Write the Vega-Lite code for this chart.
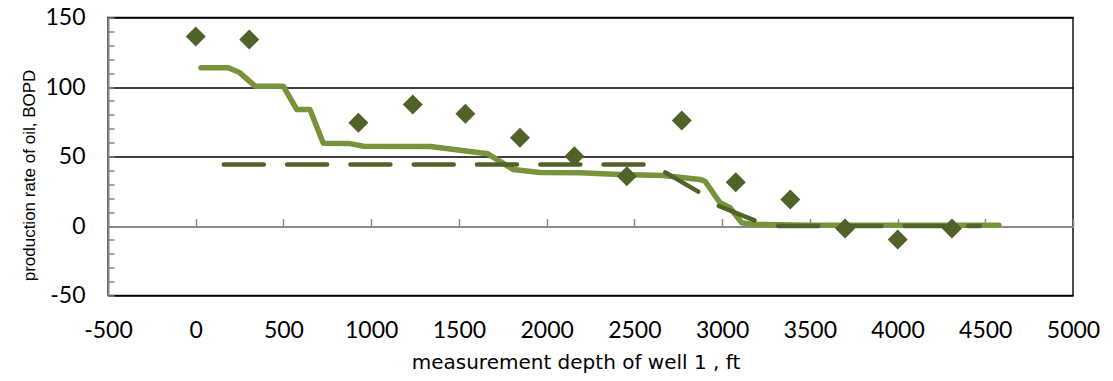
{
  "$schema": "https://vega.github.io/schema/vega-lite/v6.json",
  "width": 965,
  "height": 278,
  "autosize": {"type": "none"},
  "padding": {"left": 108, "top": 17.5, "right": 40, "bottom": 85.5},
  "background": "white",
  "config": {
    "view": {"stroke": "#111111", "strokeWidth": 1.5},
    "axis": {"labelFont": "Lato", "labelFontSize": 23, "labelColor": "#000000"}
  },
  "datasets": {
    "measured": [
      {"depth": 0, "rate": 136.3},
      {"depth": 305, "rate": 134.2},
      {"depth": 927, "rate": 74.2},
      {"depth": 1237, "rate": 87.4},
      {"depth": 1537, "rate": 80.7},
      {"depth": 1848, "rate": 63.4},
      {"depth": 2158, "rate": 50.2},
      {"depth": 2457, "rate": 35.8},
      {"depth": 2770, "rate": 75.9},
      {"depth": 3078, "rate": 31.5},
      {"depth": 3389, "rate": 19.1},
      {"depth": 3701, "rate": -1.8},
      {"depth": 4001, "rate": -9.7},
      {"depth": 4310, "rate": -1.8}
    ],
    "profile": [
      {"depth": 30, "rate": 113.8},
      {"depth": 186, "rate": 113.8},
      {"depth": 252, "rate": 110.2},
      {"depth": 338, "rate": 100.6},
      {"depth": 499, "rate": 100.6},
      {"depth": 576, "rate": 83.8},
      {"depth": 651, "rate": 83.8},
      {"depth": 727, "rate": 59.5},
      {"depth": 879, "rate": 59.3},
      {"depth": 955, "rate": 57.4},
      {"depth": 1337, "rate": 57.2},
      {"depth": 1620, "rate": 52.7},
      {"depth": 1660, "rate": 52.2},
      {"depth": 1810, "rate": 40.6},
      {"depth": 1962, "rate": 38.5},
      {"depth": 2190, "rate": 38.3},
      {"depth": 2418, "rate": 37.1},
      {"depth": 2665, "rate": 36.3},
      {"depth": 2874, "rate": 33.5},
      {"depth": 2903, "rate": 32.2},
      {"depth": 2988, "rate": 16.7},
      {"depth": 3045, "rate": 13.1},
      {"depth": 3112, "rate": 2.3},
      {"depth": 3178, "rate": 1.1},
      {"depth": 3500, "rate": 0.6},
      {"depth": 4578, "rate": 0.5}
    ],
    "trend": [
      {"seg": 1, "depth": 160, "rate": 44.2},
      {"seg": 1, "depth": 2557, "rate": 44.2},
      {"seg": 2, "depth": 2676, "rate": 38.6},
      {"seg": 2, "depth": 2864, "rate": 24.7},
      {"seg": 3, "depth": 2981, "rate": 14.4},
      {"seg": 3, "depth": 3185, "rate": 4.0},
      {"seg": 4, "depth": 3320, "rate": 0},
      {"seg": 4, "depth": 4470, "rate": 0}
    ]
  },
  "resolve": {"axis": {"x": "independent"}},
  "encoding": {
    "y": {
      "field": "rate", "type": "quantitative",
      "scale": {"domain": [-50, 150], "nice": false, "zero": false},
      "axis": {
        "values": [-50, -40, -30, -20, -10, 0, 10, 20, 30, 40, 50, 60, 70, 80, 90, 100, 110, 120, 130, 140, 150],
        "labelExpr": "datum.value % 50 === 0 ? '' + datum.value : ''",
        "labelPadding": 29, "labelFlush": false, "labelOverlap": false, "labelBound": false,
        "domainColor": "#868686", "domainWidth": 2,
        "tickColor": "#868686", "tickSize": -6, "tickWidth": 1.5,
        "grid": true,
        "gridColor": {"condition": {"test": "datum.value === 0", "value": "#8a8a8a"}, "value": "#000000"},
        "gridOpacity": {"condition": {"test": "datum.value % 50 === 0", "value": 1}, "value": 0},
        "gridWidth": 1.5,
        "title": "production rate of oil, BOPD",
        "titleFont": "Liberation Sans", "titleFontSize": 17, "titleFontWeight": "normal", "titleColor": "#000000",
        "titleBaseline": "alphabetic", "titleX": -74, "titleY": 157.5, "titleAngle": -90, "titleAlign": "center", "titleAnchor": "start"
      }
    }
  },
  "layer": [
    {
      "data": {"name": "profile"},
      "mark": {"type": "line", "color": "#77933C", "strokeWidth": 5.5, "strokeCap": "round", "strokeJoin": "round"},
      "encoding": {
        "x": {
          "field": "depth", "type": "quantitative",
          "scale": {"domain": [-500, 5000], "nice": false, "zero": false},
          "axis": {
            "orient": "bottom",
            "values": [-500, 0, 500, 1000, 1500, 2000, 2500, 3000, 3500, 4000, 4500, 5000],
            "labelExpr": "'' + datum.value",
            "domain": false, "ticks": false, "grid": false,
            "labelPadding": 24, "labelFlush": false, "labelOverlap": false,
            "title": "measurement depth of well 1 , ft",
            "titleFont": "DejaVu Sans", "titleFontSize": 20, "titleFontWeight": "normal", "titleColor": "#000000",
            "titleBaseline": "alphabetic", "titleX": 467.5, "titleY": 72.6, "titleAnchor": "start", "titleAlign": "center"
          }
        }
      }
    },
    {
      "data": {"name": "trend"},
      "mark": {"type": "line", "color": "#4F6228", "strokeWidth": 4.5, "strokeCap": "round", "strokeDash": [40, 23.3]},
      "encoding": {
        "x": {
          "field": "depth", "type": "quantitative",
          "axis": {
            "orient": "top", "offset": -209,
            "values": [-500, 0, 500, 1000, 1500, 2000, 2500, 3000, 3500, 4000, 4500, 5000],
            "labels": false, "grid": false, "title": null,
            "domainColor": "#8a8a8a", "domainWidth": 1.8,
            "tickColor": "#8a8a8a", "tickSize": 8, "tickWidth": 1.5
          }
        },
        "detail": {"field": "seg", "type": "nominal"}
      }
    },
    {
      "data": {"name": "measured"},
      "mark": {"type": "point", "shape": "diamond", "filled": true, "size": 400, "color": "#4F6228", "opacity": 1},
      "encoding": {
        "x": {"field": "depth", "type": "quantitative", "axis": null}
      }
    }
  ]
}
